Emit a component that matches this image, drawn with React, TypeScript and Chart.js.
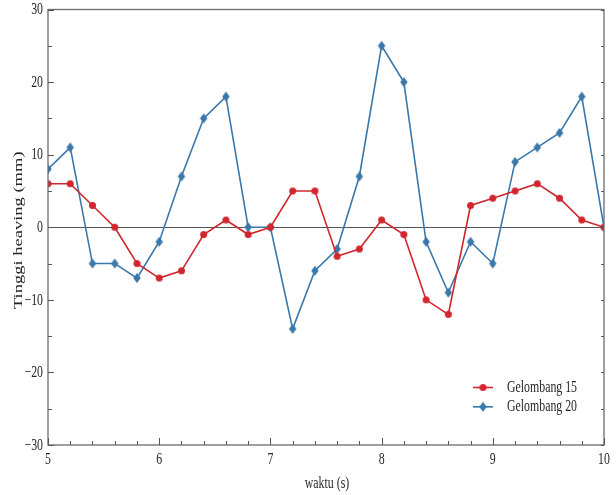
import React, { useEffect, useRef } from "react";
import { Chart, registerables } from "chart.js";

Chart.register(...registerables);

const waktu = [5, 5.2, 5.4, 5.6, 5.8, 6, 6.2, 6.4, 6.6, 6.8, 7, 7.2, 7.4, 7.6, 7.8, 8, 8.2, 8.4, 8.6, 8.8, 9, 9.2, 9.4, 9.6, 9.8, 10];
const gelombang15 = [6, 6, 3, 0, -5, -7, -6, -1, 1, -1, 0, 5, 5, -4, -3, 1, -1, -10, -12, 3, 4, 5, 6, 4, 1, 0];
const gelombang20 = [8, 11, -5, -5, -7, -2, 7, 15, 18, 0, 0, -14, -6, -3, 7, 25, 20, -2, -9, -2, -5, 9, 11, 13, 18, 0];
const xTicks = [5, 6, 7, 8, 9, 10];
const yTicks = [-30, -20, -10, 0, 10, 20, 30];
const xTitle = "waktu (s)";
const yTitle = "Tinggi heaving (mm)";
const seriesNames = ["Gelombang 15", "Gelombang 20"];

const RED = "#d0262e";
const BLUE = "#3a78aa";
const TEXT = "#262626";
const FONT = "'Liberation Serif', 'Times New Roman', serif";
const FONT_SIZE = 16;
const SQUEEZE = 0.74; // narrow, tall lettering

// Marker images: a small round dot and a tall diamond
function makeDot(color: string, w: number, h: number) {
  const c = document.createElement("canvas");
  c.width = Math.ceil(w) + 2;
  c.height = Math.ceil(h) + 2;
  const g = c.getContext("2d")!;
  g.fillStyle = color;
  g.beginPath();
  g.ellipse(c.width / 2, c.height / 2, w / 2, h / 2, 0, 0, Math.PI * 2);
  g.fill();
  return c;
}
function makeDiamond(color: string, w: number, h: number) {
  const c = document.createElement("canvas");
  c.width = Math.ceil(w) + 2;
  c.height = Math.ceil(h) + 2;
  const g = c.getContext("2d")!;
  const cx = c.width / 2;
  const cy = c.height / 2;
  g.fillStyle = color;
  g.beginPath();
  g.moveTo(cx, cy - h / 2);
  g.lineTo(cx + w / 2, cy);
  g.lineTo(cx, cy + h / 2);
  g.lineTo(cx - w / 2, cy);
  g.closePath();
  g.fill();
  return c;
}

function squeezedText(ctx: CanvasRenderingContext2D, text: string, x: number, y: number, align: CanvasTextAlign) {
  ctx.save();
  ctx.translate(x, y);
  ctx.scale(SQUEEZE, 1);
  ctx.textAlign = align;
  ctx.textBaseline = "middle";
  ctx.fillText(text, 0, 0);
  ctx.restore();
}

const fmt = (v: number) => (v < 0 ? "\u2212" + Math.abs(v) : String(v));

export default function App() {
  const canvasRef = useRef<HTMLCanvasElement | null>(null);

  useEffect(() => {
    if (!canvasRef.current) return;
    const redDot = makeDot(RED, 7, 7);
    const blueDiamond = makeDiamond(BLUE, 7.5, 10);

    // Frame, inward ticks, tick labels, axis titles and legend
    const framePlugin = {
      id: "frame",
      afterDraw(chart: any) {
        const { ctx, chartArea: a, scales } = chart;
        const xs = scales.x;
        const ys = scales.y;
        ctx.save();
        ctx.strokeStyle = "#6a6a6a";
        ctx.lineWidth = 1.3;
        ctx.strokeRect(a.left, a.top, a.right - a.left, a.bottom - a.top);

        ctx.lineWidth = 1;
        ctx.strokeStyle = "#555";
        for (let i = 0; i <= 25; i++) {
          const v = 5 + i * 0.2;
          const px = Math.round(xs.getPixelForValue(v)) + 0.5;
          const len = i % 5 === 0 ? 7 : 4;
          ctx.beginPath();
          ctx.moveTo(px, a.bottom);
          ctx.lineTo(px, a.bottom - len);
          ctx.stroke();
        }
        for (let v = -30; v <= 30; v += 5) {
          const py = Math.round(ys.getPixelForValue(v)) + 0.5;
          const len = v % 10 === 0 ? 6 : 4;
          ctx.beginPath();
          ctx.moveTo(a.left, py);
          ctx.lineTo(a.left + len, py);
          ctx.moveTo(a.right, py);
          ctx.lineTo(a.right - 3, py);
          ctx.stroke();
        }

        ctx.fillStyle = TEXT;
        ctx.font = `${FONT_SIZE}px ${FONT}`;
        for (const v of yTicks) {
          squeezedText(ctx, fmt(v), a.left - 5, ys.getPixelForValue(v) + 0.5, "right");
        }
        for (const v of xTicks) {
          squeezedText(ctx, fmt(v), xs.getPixelForValue(v), a.bottom + 15, "center");
        }
        squeezedText(ctx, xTitle, (a.left + a.right) / 2 + 1, a.bottom + 39, "center");

        // rotated y title, squeezed across its thickness
        ctx.save();
        ctx.font = `18.5px ${FONT}`;
        ctx.translate(19, (a.top + a.bottom) / 2 + 3);
        ctx.rotate(-Math.PI / 2);
        ctx.scale(1, 0.7);
        ctx.textAlign = "center";
        ctx.textBaseline = "middle";
        ctx.fillText(yTitle, 0, 0);
        ctx.restore();

        // legend
        const marks = [redDot, blueDiamond];
        const colors = [RED, BLUE];
        const lx = 473;
        for (let i = 0; i < seriesNames.length; i++) {
          const ly = 387.5 + i * 19.3;
          ctx.strokeStyle = colors[i];
          ctx.lineWidth = 1.6;
          ctx.beginPath();
          ctx.moveTo(lx, ly);
          ctx.lineTo(lx + 20, ly);
          ctx.stroke();
          const m = marks[i];
          ctx.drawImage(m, lx + 10 - m.width / 2, ly - m.height / 2);
          ctx.fillStyle = TEXT;
          squeezedText(ctx, seriesNames[i], lx + 34, ly, "left");
        }
        ctx.restore();
      },
    };

    const toPts = (ys: number[]) => waktu.map((x, i) => ({ x, y: ys[i] }));
    const chart = new Chart(canvasRef.current, {
      type: "line",
      data: {
        datasets: [
          {
            label: seriesNames[0],
            data: toPts(gelombang15),
            borderColor: RED,
            backgroundColor: RED,
            borderWidth: 1.6,
            pointStyle: redDot as any,
            tension: 0,
          },
          {
            label: seriesNames[1],
            data: toPts(gelombang20),
            borderColor: BLUE,
            backgroundColor: BLUE,
            borderWidth: 1.6,
            pointStyle: blueDiamond as any,
            tension: 0,
          },
        ],
      },
      options: {
        animation: false,
        responsive: false,
        maintainAspectRatio: false,
        layout: { padding: { top: 9.5, right: 12, left: 0, bottom: 0 } },
        plugins: { legend: { display: false }, tooltip: { enabled: false } },
        scales: {
          x: {
            type: "linear",
            min: 5,
            max: 10,
            afterFit: (s: any) => {
              s.height = 50;
            },
            border: { display: false },
            grid: { display: false, drawTicks: false },
            ticks: { display: false },
          },
          y: {
            type: "linear",
            min: -30,
            max: 30,
            afterBuildTicks: (s: any) => {
              s.ticks = yTicks.map((v) => ({ value: v }));
            },
            afterFit: (s: any) => {
              s.width = 48;
            },
            border: { display: false },
            grid: {
              drawTicks: false,
              color: (c: any) => (c.tick && c.tick.value === 0 ? "#555" : "transparent"),
              lineWidth: 1,
            },
            ticks: { display: false },
          },
        },
      },
      plugins: [framePlugin],
    });
    return () => chart.destroy();
  }, []);

  return (
    <div style={{ position: "absolute", left: 0, top: 0, width: 616, height: 495, background: "#fff" }}>
      <canvas ref={canvasRef} width={616} height={495} style={{ display: "block" }} />
    </div>
  );
}
